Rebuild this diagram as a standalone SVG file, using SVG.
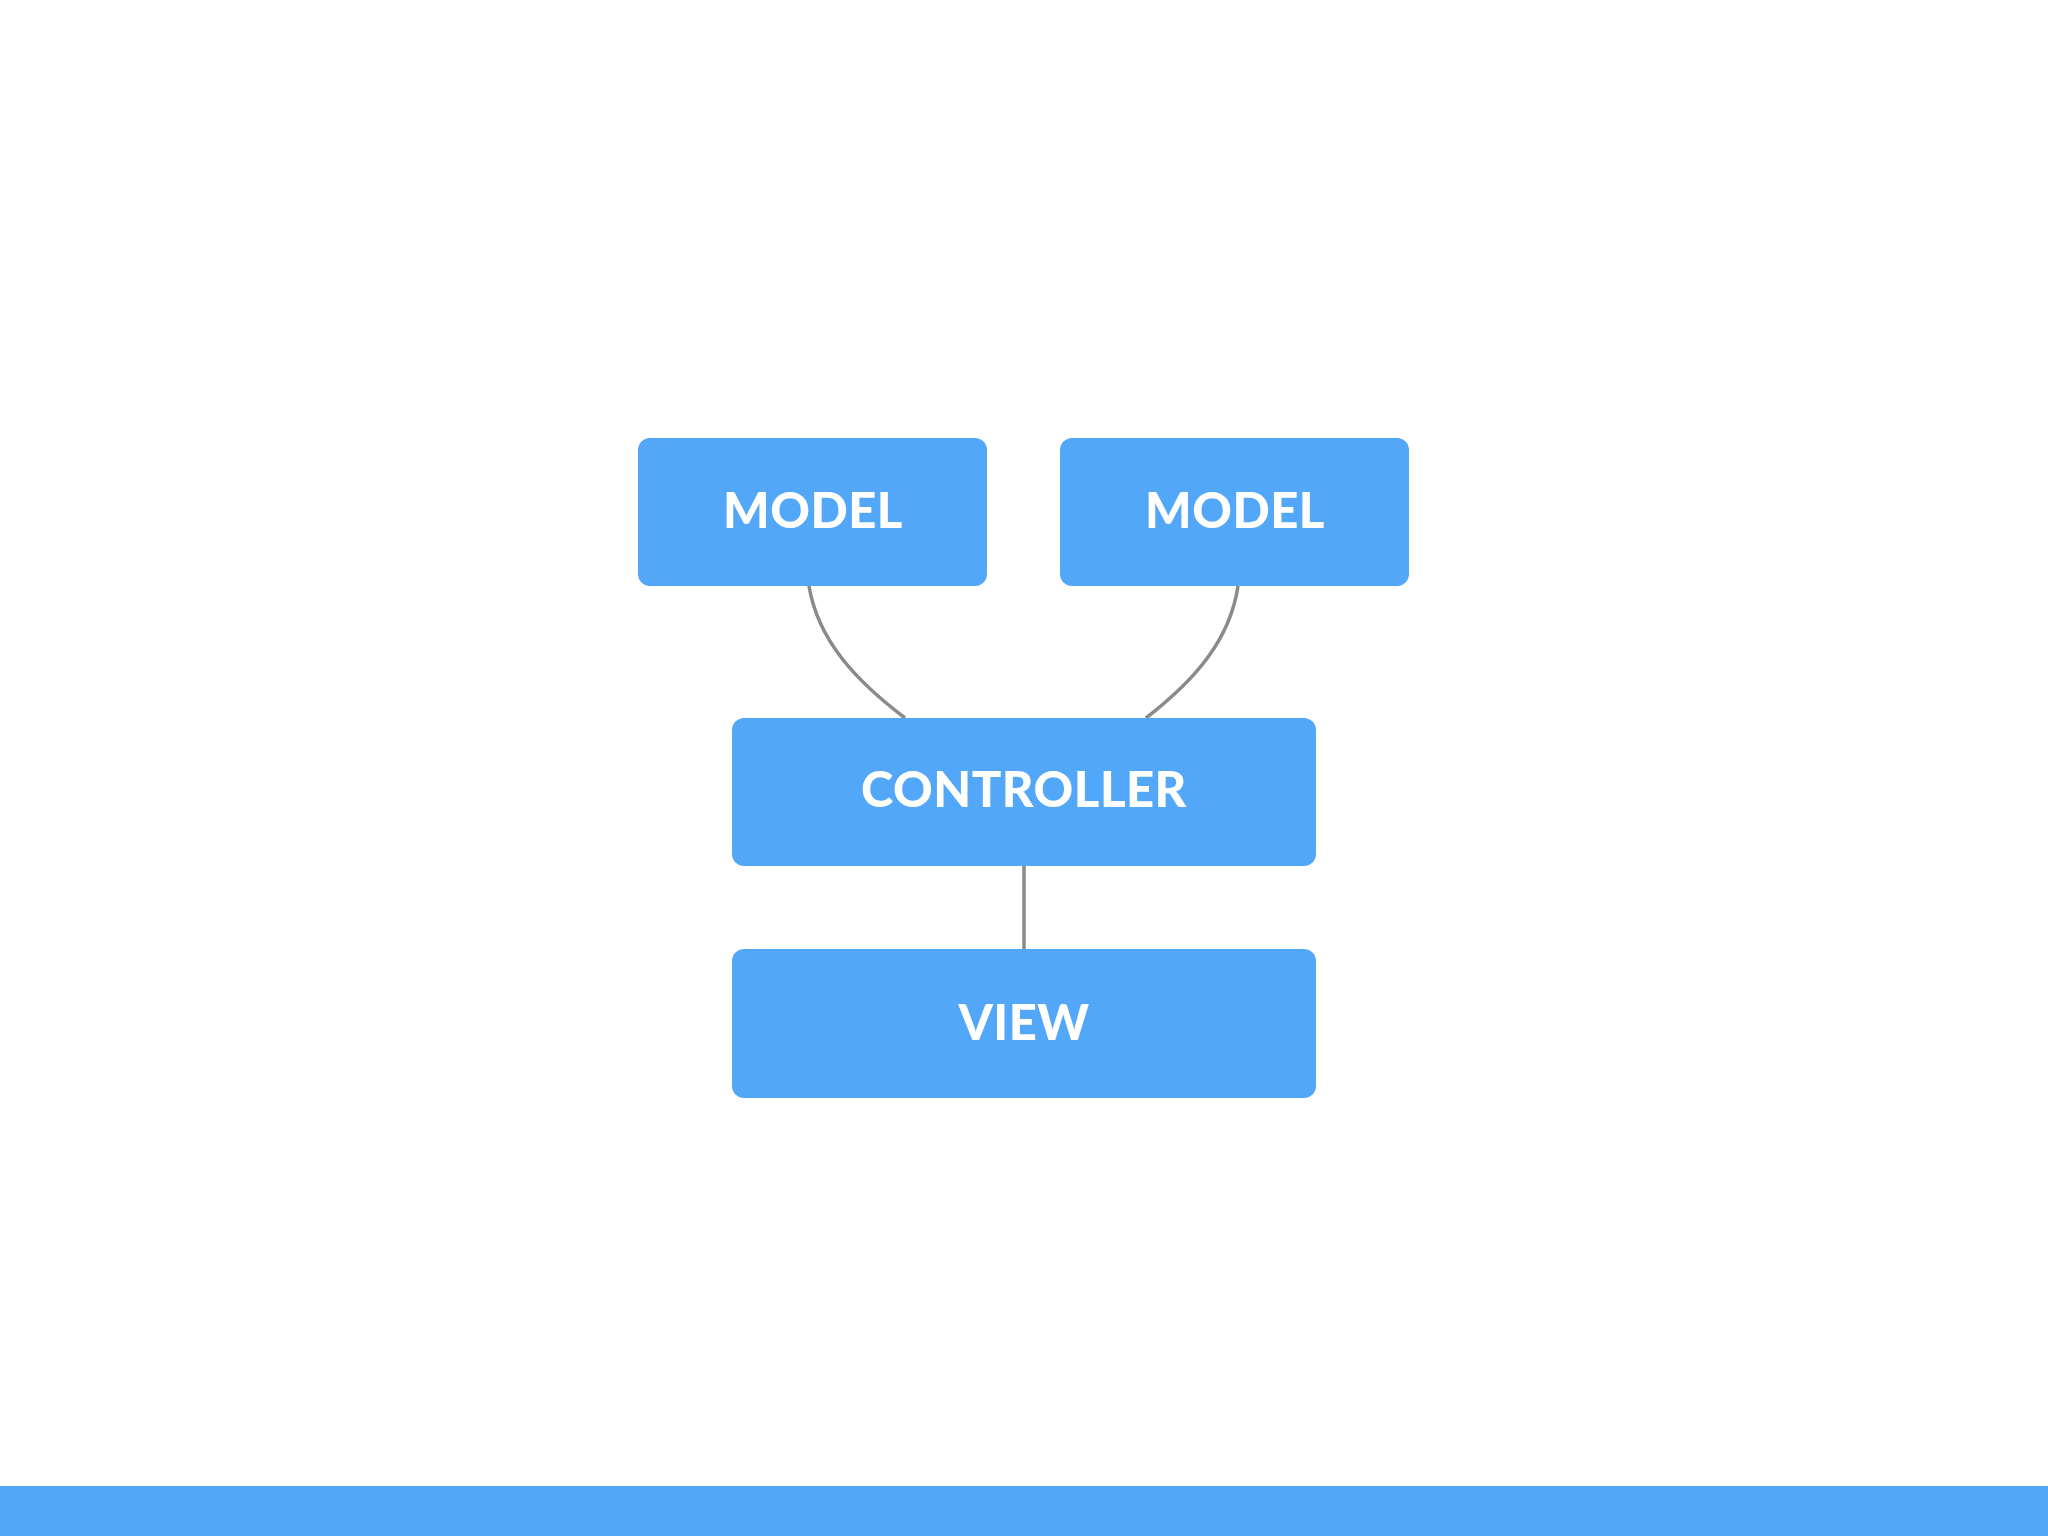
<svg xmlns="http://www.w3.org/2000/svg" width="2048" height="1536" viewBox="0 0 2048 1536">
<style>
.box{fill:#52A7F8}
.lbl{fill:#FFFFFF;font-family:Lato,"Open Sans","Liberation Sans",sans-serif;font-weight:900;font-size:49px;letter-spacing:0.5px;text-anchor:middle}
.conn{fill:none;stroke:#8A8A8A;stroke-width:3.5}
</style>
<rect width="2048" height="1536" fill="#FFFFFF"/>
<g id="connectors">
<path class="conn" d="M809,586 C818,640 855,680 905,718"/>
<path class="conn" d="M1238,586 C1230,640 1195,680 1146,718"/>
<path class="conn" d="M1024,866 L1024,950"/>
</g>
<g id="model1">
<rect class="box" x="638" y="438" width="349" height="148" rx="12"/>
<text class="lbl" x="813" y="528">MODEL</text>
</g>
<g id="model2">
<rect class="box" x="1060" y="438" width="349" height="148" rx="12"/>
<text class="lbl" x="1235" y="528">MODEL</text>
</g>
<g id="controller">
<rect class="box" x="732" y="718" width="584" height="148" rx="12"/>
<text class="lbl" x="1024" y="807">CONTROLLER</text>
</g>
<g id="view">
<rect class="box" x="732" y="949" width="584" height="149" rx="12"/>
<text class="lbl" x="1024" y="1040">VIEW</text>
</g>
<rect id="bottom-bar" class="box" x="0" y="1486" width="2048" height="50"/>
</svg>
